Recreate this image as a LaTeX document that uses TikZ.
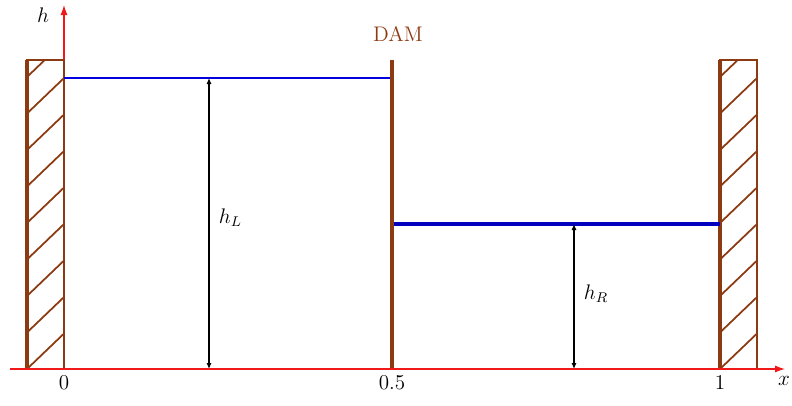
\documentclass[tikz,border=0pt]{standalone}
\usetikzlibrary{arrows.meta,positioning}
\definecolor{Wall}{HTML}{8B3A12}
\definecolor{Water}{HTML}{0000E0}
\definecolor{Axis}{HTML}{F01818}

\begin{document}
\begin{tikzpicture}[
    font=\large,
    axis/.style={
        draw=Axis,
        line width=0.6pt,
        -{Latex[length=2mm,width=1.4mm]}
    },
    wallthin/.style={
        draw=Wall,
        line width=0.6pt
    },
    wallthick/.style={
        draw=Wall,
        line width=1.8pt
    },
    hatch/.style={
        draw=Wall,
        line width=1pt
    },
    height/.style={
        draw=black,
        line width=0.6pt,
        {Latex[length=1.2mm,width=1mm]}-{Latex[length=1.2mm,width=1mm]}
    },
    ticklabel/.style={
        below=3pt,
        inner sep=1pt
    }
]

% Frame
\useasboundingbox (-1.28,-0.72) rectangle (14.56,7.38);

% Points
\coordinate (O) at (0,0);
\coordinate (mid) at (6.56,0);
\coordinate (one) at (13.12,0);
\coordinate (damtop) at (6.56,6.18);
\coordinate (levelL) at (2.9,5.82);
\coordinate (baseL) at (2.9,0);
\coordinate (levelR) at (10.2,2.9);
\coordinate (baseR) at (10.2,0);

% Vertical axis
\draw[axis] (O) -- (0,7.28) coordinate (htip);
\node (hlabel) at (-0.42,7.08) {$h$};

% Left wall
\begin{scope}
    \clip (-0.74,0) rectangle (0,6.18);
    \foreach \k in {0,...,9}
        \draw[hatch] (-0.74,\k*0.73) -- ++(1.2,1.15);
\end{scope}
\draw[wallthin] (-0.74,0) rectangle (0,6.18);
\draw[wallthick] (-0.74,0) -- (-0.74,6.18);

% Right wall
\begin{scope}
    \clip (13.12,0) rectangle (13.86,6.18);
    \foreach \k in {0,...,9}
        \draw[hatch] (13.12,\k*0.73) -- ++(1.2,1.15);
\end{scope}
\draw[wallthin] (13.12,0) rectangle (13.86,6.18);
\draw[wallthick] (one) -- (13.12,6.18);

% Water levels
\draw[Water, line width=0.6pt] (0,5.82) -- (6.56,5.82);
\draw[Water!85!black, line width=1.8pt] (6.56,2.9) -- (13.12,2.9);

% Dam
\draw[wallthick] (mid) -- (damtop);
\node[text=Wall, above=0.25cm of damtop, xshift=0.12cm] (dam) {DAM};

% Heights
\draw[height] (baseL) -- (levelL)
    node[pos=0.52, right=2pt] (hL) {$h_L$};
\draw[height] (baseR) -- (levelR)
    node[pos=0.52, right=2pt] (hR) {$h_R$};

% Horizontal axis
\draw[axis] (-1.08,0) -- (14.42,0) coordinate (xtip);
\node[anchor=north east, inner sep=1pt] (xlabel) at (14.56,-0.1) {$x$};

% Tick labels
\node[ticklabel] (l0) at (O) {$0$};
\node[ticklabel] (l05) at (mid) {$0.5$};
\node[ticklabel] (l1) at (one) {$1$};

\end{tikzpicture}
\end{document}
